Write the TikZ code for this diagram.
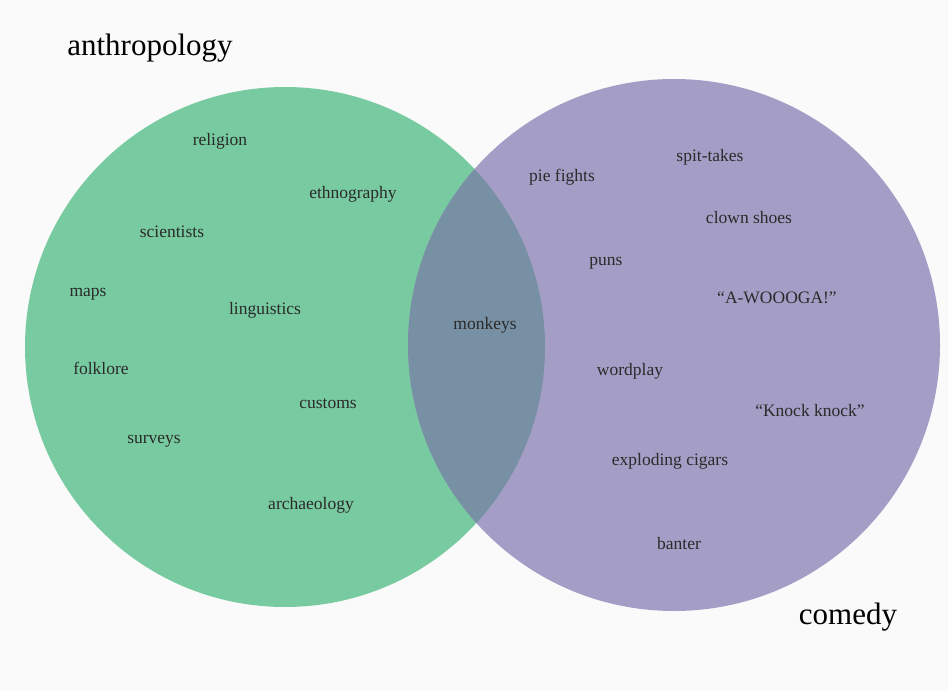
\documentclass[tikz,border=0pt]{standalone}
\usepackage{fontspec}
\setmainfont{Liberation Serif}
\definecolor{bg}{HTML}{FAFAFA}
\definecolor{grn}{HTML}{78CBA0}
\definecolor{pur}{HTML}{A49EC6}
\definecolor{mix}{HTML}{7890A4}
\definecolor{txt}{HTML}{2A2A2A}
\tikzset{lbl/.style={text=txt,font=\fontsize{17.5}{20}\selectfont,inner sep=0pt},
ttl/.style={text=black,font=\fontsize{31}{34}\selectfont,inner sep=0pt}}
\begin{document}
\begin{tikzpicture}[x=1pt,y=-1pt]
\fill[bg] (0,0) rectangle (948,690);
\useasboundingbox (0,0) rectangle (948,690);
\fill[grn] (285,347) circle (260);
\fill[pur] (674,345) circle (266);
\begin{scope}
\clip (285,347) circle (260);
\fill[mix] (674,345) circle (266);
\end{scope}
\node[ttl] (t1) at (150,48) {anthropology};
\node[ttl] (t2) at (848,617) {comedy};
\node[lbl] (a1) at (220,141) {religion};
\node[lbl] (a2) at (353,194) {ethnography};
\node[lbl] (a3) at (172,232) {scientists};
\node[lbl] (a4) at (88,294) {maps};
\node[lbl] (a5) at (265,310) {linguistics};
\node[lbl] (a6) at (101,368) {folklore};
\node[lbl] (a7) at (328,404) {customs};
\node[lbl] (a8) at (154,441) {surveys};
\node[lbl] (a9) at (311,505) {archaeology};
\node[lbl] (m) at (485,325) {monkeys};
\node[lbl] (c1) at (562,177) {pie fights};
\node[lbl] (c2) at (710,157) {spit-takes};
\node[lbl] (c3) at (749,218) {clown shoes};
\node[lbl] (c4) at (606,263) {puns};
\node[lbl] (c5) at (777,298) {“A-WOOOGA!”};
\node[lbl] (c6) at (630,371) {wordplay};
\node[lbl] (c7) at (810,411) {“Knock knock”};
\node[lbl] (c8) at (670,461) {exploding cigars};
\node[lbl] (c9) at (679,544) {banter};
\end{tikzpicture}
\end{document}
